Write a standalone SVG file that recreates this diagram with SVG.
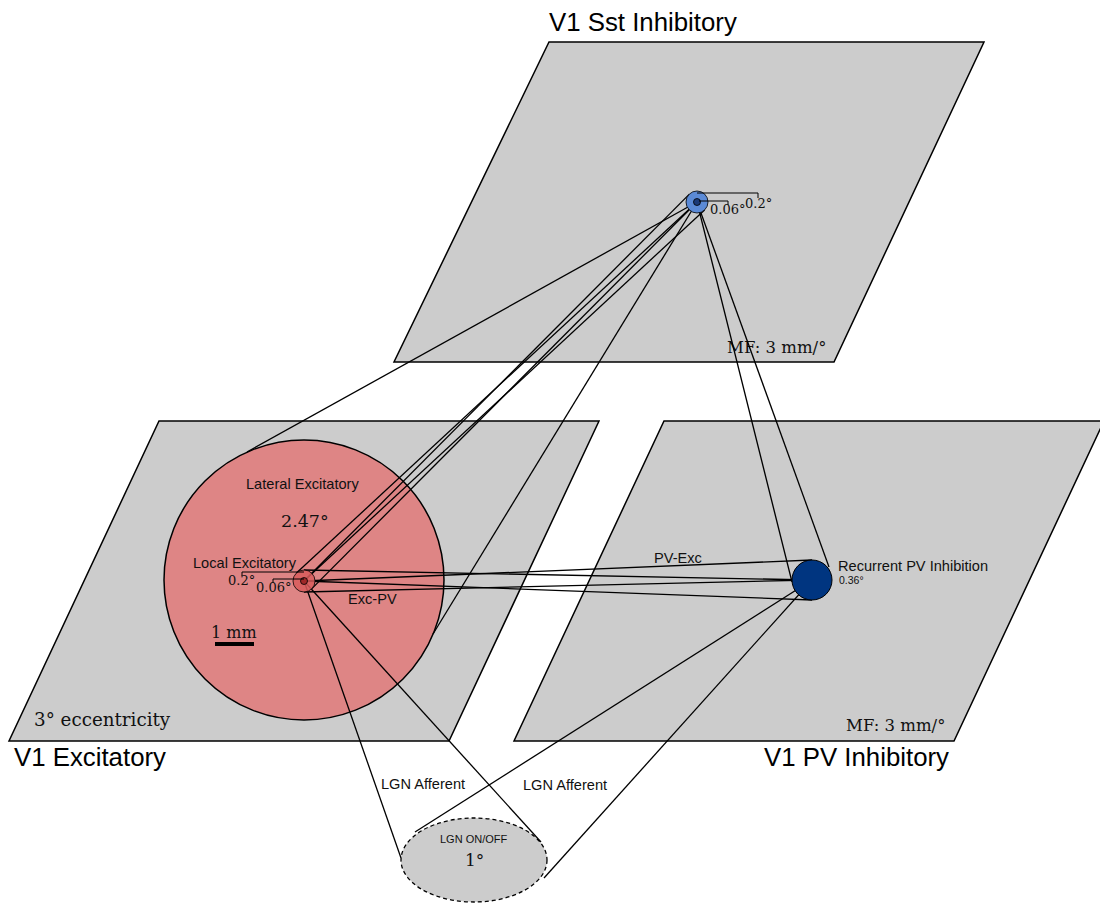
<svg xmlns="http://www.w3.org/2000/svg" width="1100" height="904" viewBox="0 0 1100 904">
  <style>
    .sheet { fill: #cccccc; stroke: #000; stroke-width: 1.5; }
    .conn line { stroke: #000; stroke-width: 1.3; }
    .tick { fill: none; stroke: #000; stroke-width: 1; }
    .title { font-family: "Liberation Sans", Arial, sans-serif; font-size: 25.8px; fill: #000; }
    .lab { font-family: "Liberation Sans", Arial, sans-serif; font-size: 14.6px; fill: #111; }
    .ser { font-family: "DejaVu Serif", serif; fill: #111; }
  </style>

  <!-- cortical sheets -->
  <g id="sheet-sst">
    <polygon class="sheet" points="549,42 984,42 834,362 394,362"/>
    <text class="title" x="549" y="31">V1 Sst Inhibitory</text>
    <text class="ser" x="727" y="353" font-size="16.5">MF: 3 mm/°</text>
  </g>
  <g id="sheet-exc">
    <polygon class="sheet" points="159,421 599,421 449,741 9,741"/>
    <text class="title" x="14" y="766">V1 Excitatory</text>
    <text class="ser" x="34" y="726" font-size="18.3">3° eccentricity</text>
  </g>
  <g id="sheet-pv">
    <polygon class="sheet" points="664,421 1104,421 954,741 514,741"/>
    <text class="title" x="764" y="766">V1 PV Inhibitory</text>
    <text class="ser" x="846" y="731" font-size="16.5">MF: 3 mm/°</text>
  </g>

  <!-- lateral excitatory pool -->
  <g id="lateral-exc">
    <circle cx="304" cy="580" r="140" fill="#de8585" stroke="#000" stroke-width="1.5"/>
    <text class="lab" x="246" y="489">Lateral Excitatory</text>
    <text class="ser" x="281" y="527" font-size="17.5">2.47°</text>
    <text class="ser" x="211" y="638" font-size="16">1 mm</text>
    <rect x="215" y="642" width="39" height="4" fill="#000"/>
  </g>

  <!-- LGN input -->
  <g id="lgn">
    <ellipse cx="474" cy="860" rx="73" ry="42" fill="#cccccc" stroke="#000" stroke-width="1.3" stroke-dasharray="4,3"/>
    <text class="lab" x="440" y="843" style="font-size:11px">LGN ON/OFF</text>
    <text class="ser" x="465" y="866" font-size="17">1°</text>
  </g>

  <!-- connectors -->
  <g id="connectors" class="conn">
    <!-- Sst to lateral pool -->
    <line x1="697" y1="202" x2="247" y2="452"/>
    <line x1="697" y1="202" x2="433" y2="634"/>
    <!-- Sst to local excitatory -->
    <line x1="304" y1="581" x2="704.6" y2="209.9"/>
    <line x1="304" y1="581" x2="689.4" y2="194.1"/>
    <line x1="311.6" y1="588.9" x2="697" y2="202"/>
    <line x1="296.4" y1="573.1" x2="697" y2="202"/>
    <!-- Sst to PV -->
    <line x1="697" y1="202" x2="792" y2="582"/>
    <line x1="697" y1="202" x2="829" y2="567"/>
    <!-- local excitatory to PV -->
    <line x1="304" y1="581" x2="812" y2="560"/>
    <line x1="304" y1="581" x2="812" y2="600"/>
    <line x1="304" y1="570" x2="812" y2="580"/>
    <line x1="304" y1="592" x2="812" y2="580"/>
    <!-- LGN afferents -->
    <line x1="304" y1="581" x2="401" y2="858"/>
    <line x1="304" y1="581" x2="541" y2="842"/>
    <line x1="812" y1="580" x2="415" y2="832"/>
    <line x1="812" y1="580" x2="544" y2="878"/>
  </g>

  <g id="conn-labels">
    <text class="lab" x="348" y="604">Exc-PV</text>
    <text class="lab" x="654" y="563">PV-Exc</text>
    <text class="lab" x="381" y="789">LGN Afferent</text>
    <text class="lab" x="523" y="790">LGN Afferent</text>
  </g>

  <!-- local excitatory pool -->
  <g id="local-exc">
    <circle cx="304" cy="581" r="11" fill="#d85c5c" stroke="#000" stroke-width="0.8" fill-opacity="0.85"/>
    <circle cx="304" cy="581" r="3.5" fill="#a02828" stroke="#000" stroke-width="0.8"/>
    <polyline class="tick" points="304,572 242,572 242,576"/>
    <polyline class="tick" points="304,579 273,579 273,583"/>
    <text class="lab" x="193" y="568">Local Excitatory</text>
    <text class="ser" x="228" y="585" font-size="13">0.2°</text>
    <text class="ser" x="256" y="592" font-size="13">0.06°</text>
  </g>

  <!-- Sst pool -->
  <g id="sst">
    <circle cx="697" cy="202" r="11" fill="#5b8ad6" stroke="#000" stroke-width="0.8"/>
    <circle cx="697" cy="202" r="3.5" fill="#1b3a78" stroke="#000" stroke-width="0.8"/>
    <polyline class="tick" points="697,193 758,193 758,198"/>
    <polyline class="tick" points="699,201 728,201 728,205"/>
    <text class="ser" x="710" y="214" font-size="13">0.06°</text>
    <text class="ser" x="745" y="208" font-size="13">0.2°</text>
  </g>

  <!-- PV pool -->
  <g id="pv">
    <circle cx="812" cy="580" r="20" fill="#003580" stroke="#000" stroke-width="1"/>
    <text class="lab" x="838" y="571">Recurrent PV Inhibition</text>
    <text class="lab" x="839" y="584" style="font-size:10.5px">0.36°</text>
  </g>
</svg>
